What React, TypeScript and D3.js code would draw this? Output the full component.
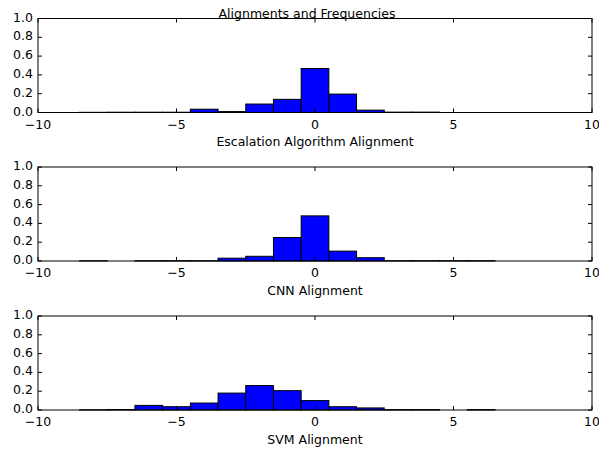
import React from "react";
import * as d3 from "d3";

// Histogram bin centres (bin width 1) and relative frequencies
const escalationBins = [-8, -7, -6, -5, -4, -3, -2, -1, 0, 1, 2, 3, 4];
const escalationFreq = [0.002, 0.003, 0.003, 0.003, 0.035, 0.01, 0.09, 0.14, 0.468, 0.196, 0.025, 0.004, 0.004];

const cnnBins = [-8, -7, -6, -5, -4, -3, -2, -1, 0, 1, 2, 3, 4, 5, 6];
const cnnFreq = [0.002, 0, 0.003, 0.003, 0.003, 0.03, 0.05, 0.25, 0.48, 0.105, 0.035, 0.003, 0.003, 0.003, 0.003];

const svmBins = [-8, -7, -6, -5, -4, -3, -2, -1, 0, 1, 2, 3, 4, 5, 6];
const svmFreq = [0.002, 0.005, 0.049, 0.035, 0.074, 0.18, 0.26, 0.206, 0.1, 0.035, 0.022, 0.004, 0.004, 0, 0.004];

const panelLabels = ["Escalation Algorithm Alignment", "CNN Alignment", "SVM Alignment"];
const chartTitle = "Alignments and Frequencies";
const xTicks = [-10, -5, 0, 5, 10];
const yTicks = [0, 0.2, 0.4, 0.6, 0.8, 1.0];

const W = 599;
const H = 452;
const left = 38;
const right = 592;
const panelTops = [18.5, 167, 316];
const panelH = 94;
const font = "'DejaVu Sans', sans-serif";
const fs = 12.5;

function fmtX(v: number) {
  return v < 0 ? "\u2212" + Math.abs(v) : String(v);
}

function Panel({ top, bins, freq, label }: { top: number; bins: number[]; freq: number[]; label: string }) {
  const x = d3.scaleLinear().domain([-10, 10]).range([left, right]);
  const y = d3.scaleLinear().domain([0, 1]).range([top + panelH, top]);
  const bottom = top + panelH;
  const tl = 4;
  return (
    <g>
      {bins.map((c, i) =>
        freq[i] > 0 ? (
          <rect
            key={i}
            x={x(c - 0.5)}
            y={y(freq[i])}
            width={x(c + 0.5) - x(c - 0.5)}
            height={y(0) - y(freq[i])}
            fill="#0000ff"
            stroke="#000"
            strokeWidth={1}
          />
        ) : null
      )}
      <rect x={left} y={top} width={right - left} height={panelH} fill="none" stroke="#000" strokeWidth={1} />
      {xTicks.map((t) => (
        <g key={"x" + t}>
          <line x1={x(t)} x2={x(t)} y1={bottom} y2={bottom - tl} stroke="#000" />
          <line x1={x(t)} x2={x(t)} y1={top} y2={top + tl} stroke="#000" />
          <text x={x(t)} y={bottom + 16} textAnchor="middle" fontFamily={font} fontSize={fs} fill="#000">
            {fmtX(t)}
          </text>
        </g>
      ))}
      {yTicks.map((t) => (
        <g key={"y" + t}>
          <line x1={left} x2={left + tl} y1={y(t)} y2={y(t)} stroke="#000" />
          <line x1={right} x2={right - tl} y1={y(t)} y2={y(t)} stroke="#000" />
          <text x={33} y={y(t) + 3} textAnchor="end" fontFamily={font} fontSize={fs} fill="#000">
            {d3.format(".1f")(t)}
          </text>
        </g>
      ))}
      <text x={(left + right) / 2} y={bottom + 33.5} textAnchor="middle" fontFamily={font} fontSize={fs} fill="#000">
        {label}
      </text>
    </g>
  );
}

export default function App() {
  const data = [
    { bins: escalationBins, freq: escalationFreq },
    { bins: cnnBins, freq: cnnFreq },
    { bins: svmBins, freq: svmFreq },
  ];
  return (
    <svg width={W} height={H} style={{ position: "absolute", left: 0, top: 0, background: "#fff" }}>
      <rect width={W} height={H} fill="#fff" />
      {data.map((d, i) => (
        <Panel key={i} top={panelTops[i]} bins={d.bins} freq={d.freq} label={panelLabels[i]} />
      ))}
      <text x={307} y={18} textAnchor="middle" fontFamily={font} fontSize={fs} fill="#000">
        {chartTitle}
      </text>
    </svg>
  );
}
